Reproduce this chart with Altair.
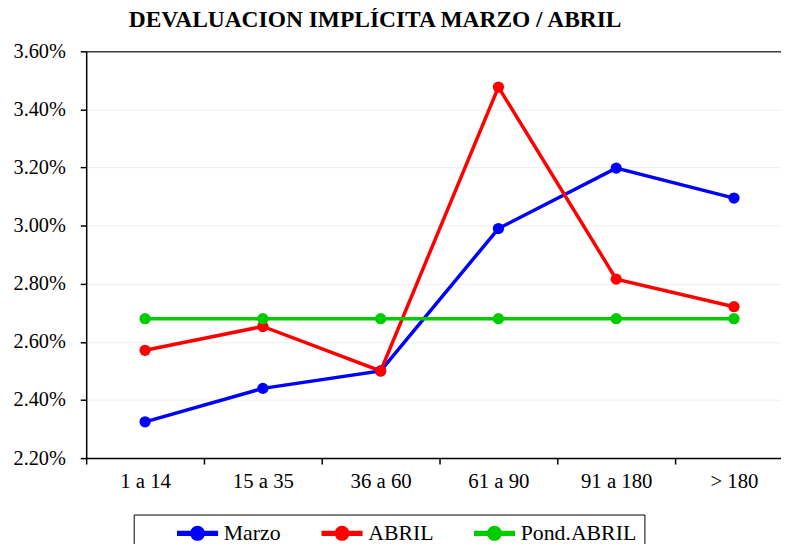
import altair as alt
import pandas as pd

categories = ["1 a 14", "15 a 35", "36 a 60", "61 a 90", "91 a 180", "> 180"]
series = ["Marzo", "ABRIL", "Pond.ABRIL"]
colors = ["#0000FF", "#FF0000", "#00CC00"]

marzo = [2.325, 2.440, 2.500, 2.990, 3.198, 3.095]
abril = [2.571, 2.653, 2.500, 3.477, 2.816, 2.721]
pond_abril = [2.680, 2.680, 2.680, 2.680, 2.680, 2.680]

y_ticks = [2.2, 2.4, 2.6, 2.8, 3.0, 3.2, 3.4, 3.6]

rows = []
for name, vals in zip(series, [marzo, abril, pond_abril]):
    for c, v in zip(categories, vals):
        rows.append({"cat": c, "serie": name, "val": v})
df = pd.DataFrame(rows)

FONT = "Liberation Serif, Times New Roman, Times, serif"
# legend symbol: a thick line with a dot, drawn in a 13px cell and spread to 40px
sym_path = ("M-3.08,-0.3H3.08V0.3H-3.08Z "
            "M1.05,0A1.05,1.05,0,1,1,-1.05,0A1.05,1.05,0,1,1,1.05,0Z")

base = alt.Chart(df).encode(
    x=alt.X("cat:N", sort=categories,
            scale=alt.Scale(type="band", paddingInner=0, paddingOuter=0, range=[0, 714]),
            axis=alt.Axis(title=None, labelAngle=0, tickBand="extent", grid=False,
                          labelFont=FONT, labelFontSize=21, labelColor="black",
                          labelPadding=7, tickSize=6, tickColor="black", tickWidth=1.5,
                          domainColor="black", domainWidth=1.5)),
    y=alt.Y("val:Q", scale=alt.Scale(domain=[2.2, 3.6], nice=False, zero=False),
            axis=alt.Axis(title=None, values=y_ticks,
                          labelExpr="format(datum.value, '.2f') + '%'",
                          labelFont=FONT, labelFontSize=20.5, labelColor="black",
                          labelPadding=15, tickSize=6, tickColor="black", tickWidth=1.5,
                          domainColor="black", domainWidth=1.5,
                          grid=True,
                          gridColor=alt.condition("datum.value >= 3.59",
                                                  alt.value("#404040"), alt.value("#eeeeee")),
                          gridWidth=alt.condition("datum.value >= 3.59",
                                                  alt.value(1.5), alt.value(1)))),
    color=alt.Color("serie:N", sort=series,
                    scale=alt.Scale(domain=series, range=colors),
                    legend=alt.Legend(
                        title=" ", titleOrient="left", titlePadding=32, titleFontSize=10,
                        orient="none", legendX=48, legendY=468, direction="horizontal",
                        symbolType=sym_path, symbolSize=169, symbolOffset=13.5,
                        labelFont=FONT, labelFontSize=22, labelColor="black",
                        labelOffset=15.5, columnPadding=37, padding=8,
                        strokeColor="black", fillColor="white", cornerRadius=0)),
)

lines = base.mark_line(strokeWidth=3.5)
points = base.mark_circle(size=130, opacity=1)

chart = alt.layer(lines, points).properties(
    width=702, height=411,
    autosize=alt.AutoSizeParams(type="none"),
    padding={"left": 79, "top": 41, "right": 0, "bottom": 84},
    title=alt.Title("DEVALUACION IMPLÍCITA MARZO / ABRIL", font=FONT, fontSize=23.7,
                    fontWeight="bold", color="black", anchor="start", frame="group",
                    dx=43, offset=10),
).configure_view(stroke=None).configure(background="white")

chart.save("out.html", embed_options={"renderer": "svg", "actions": False})
